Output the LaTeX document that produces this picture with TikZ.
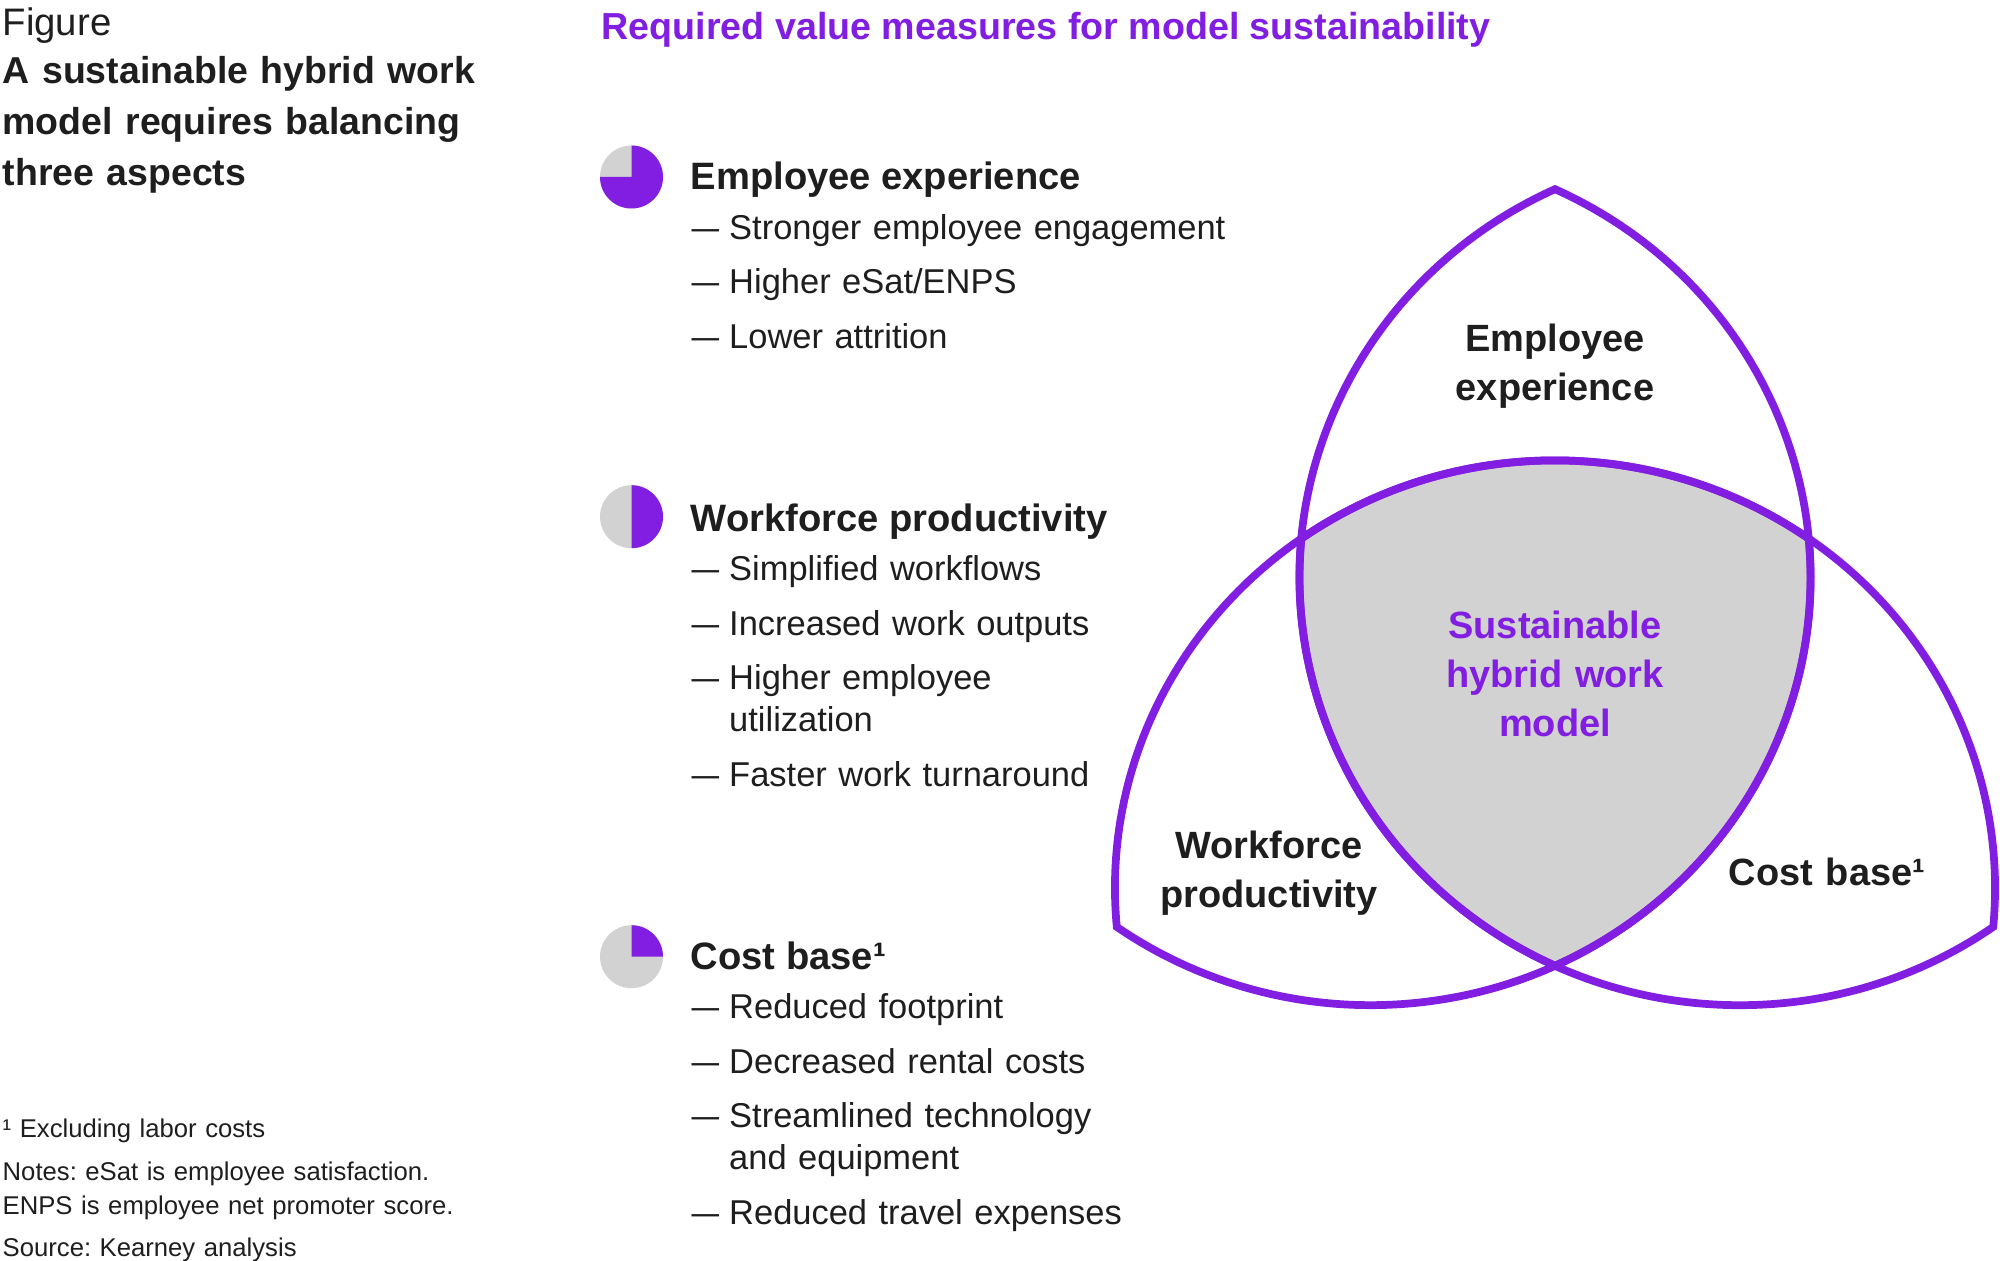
\documentclass[tikz,border=0pt]{standalone}
\usepackage{fontspec}
\setmainfont{Liberation Sans}
\usepackage{graphicx}
\frenchspacing

\definecolor{kpurple}{RGB}{130,30,225}
\definecolor{kgray}{RGB}{210,210,210}
\definecolor{ink}{RGB}{30,30,30}

\newcommand{\itemdash}{\makebox[0.375cm][l]{\scalebox{0.8}[1]{—}}}
\newcommand{\itemgap}{\hspace*{0.375cm}}
\newcommand{\lenspath}{(506,0) arc[start angle=-24.79, end angle=-155.21, radius=440] arc[start angle=155.21, end angle=24.79, radius=440] -- cycle}

\begin{document}
\begin{tikzpicture}[
    x=0.01cm, y=0.01cm,
    text=ink,
    inner sep=0pt
]

    % Styles for the figure
    \tikzset{
        figlabel/.style={anchor=base west, font=\fontsize{10.9pt}{13pt}\selectfont},
        figtitle/.style={anchor=base west, text width=6cm, align=left,
            font=\fontsize{10.65pt}{14.5pt}\selectfont\bfseries},
        measurehead/.style={anchor=base west, text=kpurple,
            font=\fontsize{10.7pt}{13pt}\selectfont\bfseries},
        aspecthead/.style={anchor=base west, font=\fontsize{10.85pt}{13pt}\selectfont\bfseries},
        bulletlist/.style={anchor=base west, text width=6cm, align=left,
            font=\fontsize{9.8pt}{11.95pt}\selectfont},
        venntext/.style={anchor=base, text width=3.4cm, align=center,
            font=\fontsize{10.8pt}{14pt}\selectfont\bfseries},
        notetext/.style={anchor=base west, text width=5cm, align=left,
            font=\fontsize{7.3pt}{9.7pt}\selectfont},
        vennline/.style={draw=kpurple, line width=2.2pt}
    }

    % Canvas
    \path[use as bounding box, fill=white] (0,0) rectangle (2000,-1261);

    % Left column
    \node[figlabel] (figLabel) at (2,-35.7) {Figure};
    \node[figtitle] (figTitle) at (2,-84) {A sustainable hybrid work\\model requires balancing\\three aspects};

    % Header
    \node[measurehead] (measureHead) at (601,-39.5) {Required value measures for model sustainability};

    % Pie icons
    \foreach \pname/\py/\pend in {eePie/177/-180, wpPie/516.7/-90, cbPie/956.7/0} {
        \coordinate (\pname) at (631.5,-\py);
        \fill[kgray] (\pname) circle[radius=31.5];
        \fill[kpurple] (\pname) -- ++(90:31.5) arc[start angle=90, end angle=\pend, radius=31.5] -- cycle;
    }

    % Aspect headings
    \node[aspecthead] (eeHead) at (690,-189.3) {Employee experience};
    \node[aspecthead] (wpHead) at (690,-531.5) {Workforce productivity};
    \node[aspecthead] (cbHead) at (690,-969.5) {Cost base¹};

    % Measures
    \node[bulletlist] (eeList) at (691,-239.3) {\itemdash Stronger employee engagement\\[0.125cm]
        \itemdash Higher eSat/ENPS\\[0.125cm]
        \itemdash Lower attrition};
    \node[bulletlist] (wpList) at (691,-580.5) {\itemdash Simplified workflows\\[0.125cm]
        \itemdash Increased work outputs\\[0.125cm]
        \itemdash Higher employee\\\itemgap utilization\\[0.125cm]
        \itemdash Faster work turnaround};
    \node[bulletlist] (cbList) at (691,-1018.5) {\itemdash Reduced footprint\\[0.125cm]
        \itemdash Decreased rental costs\\[0.125cm]
        \itemdash Streamlined technology\\\itemgap and equipment\\[0.125cm]
        \itemdash Reduced travel expenses};

    % Venn of three lenses
    \begin{scope}[shift={(1555,-681)}, yscale=0.972]
        \begin{scope}
            \clip[rotate=90] \lenspath;
            \clip[rotate=210] \lenspath;
            \fill[kgray, rotate=330] \lenspath;
        \end{scope}
        \foreach \ang in {90,210,330}
            \draw[vennline, rotate=\ang] \lenspath;
    \end{scope}

    % Venn labels
    \node[venntext] (eeTag) at (1555,-351.7) {Employee\\experience};
    \node[venntext, text=kpurple] (hubTag) at (1555,-638) {Sustainable\\hybrid work\\model};
    \node[venntext] (wpTag) at (1269,-858) {Workforce\\productivity};
    \node[venntext] (cbTag) at (1827,-885) {Cost base¹};

    % Footnotes
    \node[notetext] (footOne) at (2,-1137) {¹ Excluding labor costs};
    \node[notetext] (notes) at (2,-1180) {Notes: eSat is employee satisfaction.\\ENPS is employee net promoter score.};
    \node[notetext] (source) at (2,-1256) {Source: Kearney analysis};

\end{tikzpicture}
\end{document}
